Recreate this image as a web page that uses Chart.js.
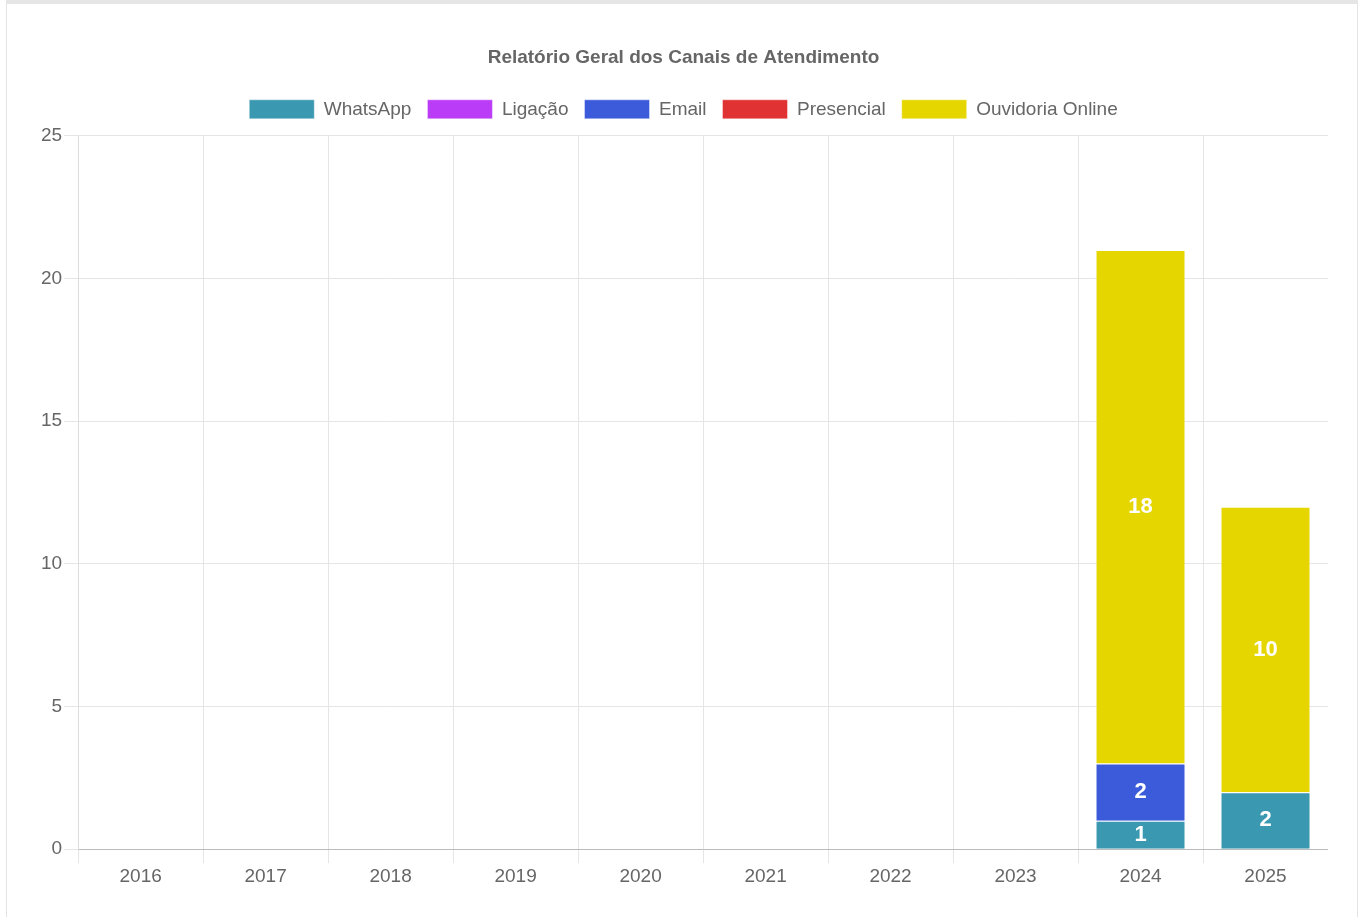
<!DOCTYPE html>
<html>
<head>
<meta charset="utf-8">
<script src="https://cdn.jsdelivr.net/npm/chart.js@4.4.1/dist/chart.umd.min.js"></script>
<style>
html,body{margin:0;padding:0;background:#fff;}
#card{position:absolute;left:6px;top:0;width:1352px;height:917px;border-left:1px solid #e3e3e3;border-right:1px solid #e3e3e3;border-top:4px solid #e6e6e6;box-sizing:border-box;}
#wrap{position:absolute;left:32px;top:26px;width:1289px;height:860px;}
</style>
</head>
<body>
<div id="card"><div id="wrap"><canvas id="c"></canvas></div></div>
<script>
const categories = ['2016','2017','2018','2019','2020','2021','2022','2023','2024','2025'];
const whatsapp  = [0,0,0,0,0,0,0,0,1,2];
const ligacao   = [0,0,0,0,0,0,0,0,0,0];
const email     = [0,0,0,0,0,0,0,0,2,0];
const presencial= [0,0,0,0,0,0,0,0,0,0];
const ouvidoria = [0,0,0,0,0,0,0,0,18,10];
const seriesNames = ['WhatsApp','Ligação','Email','Presencial','Ouvidoria Online'];
const seriesColors = ['#3b98b1','#bb3cf7','#3b5bdb','#e03232','#e6d600'];
const seriesValues = [whatsapp, ligacao, email, presencial, ouvidoria];

const FONT = "'Liberation Sans', Arial, Helvetica, sans-serif";
Chart.defaults.font.family = FONT;
Chart.defaults.font.size = 19;
Chart.defaults.color = '#666';

const labelPlugin = {
  id: 'valueLabels',
  afterDatasetsDraw(chart) {
    const ctx = chart.ctx;
    ctx.save();
    ctx.fillStyle = '#fff';
    ctx.font = "bold 22px " + FONT;
    ctx.textAlign = 'center';
    ctx.textBaseline = 'middle';
    chart.data.datasets.forEach((ds, di) => {
      const meta = chart.getDatasetMeta(di);
      if (meta.hidden) return;
      meta.data.forEach((el, i) => {
        const v = ds.data[i];
        if (!v) return;
        const p = el.getCenterPoint();
        ctx.fillText(String(v), p.x, p.y);
      });
    });
    ctx.restore();
  }
};

const legendMargin = {
  id: 'legendMargin',
  beforeInit(chart) {
    const origFit = chart.legend.fit;
    chart.legend.fit = function() {
      origFit.bind(chart.legend)();
      this.height += 7;
    };
  }
};

new Chart(document.getElementById('c'), {
  type: 'bar',
  data: {
    labels: categories,
    datasets: seriesNames.map((n, i) => ({
      label: n,
      data: seriesValues[i],
      backgroundColor: seriesColors[i],
      borderColor: 'rgba(255,255,255,0.4)',
      borderWidth: 1
    }))
  },
  options: {
    responsive: true,
    maintainAspectRatio: false,
    animation: false,
    layout: { padding: 0 },
    plugins: {
      title: {
        display: true,
        text: 'Relatório Geral dos Canais de Atendimento',
        font: { size: 19, weight: 'bold' },
        color: '#666',
        padding: { top: 16, bottom: 15 }
      },
      legend: {
        labels: { boxWidth: 65, boxHeight: 19, padding: 16, font: { size: 19 } }
      },
      tooltip: { enabled: false }
    },
    scales: {
      x: {
        stacked: true,
        grid: {
          color: c => (c.tick === undefined) ? 'rgba(0,0,0,0)' : '#e5e5e5',
          tickLength: 14
        },
        border: { color: '#bbb' },
        ticks: { padding: 2 }
      },
      y: {
        stacked: true,
        min: 0, max: 25,
        ticks: { stepSize: 5, padding: 2 },
        grid: { color: '#e5e5e5', tickLength: 14 },
        border: { color: '#ddd' }
      }
    }
  },
  plugins: [labelPlugin, legendMargin]
});
</script>
</body>
</html>
